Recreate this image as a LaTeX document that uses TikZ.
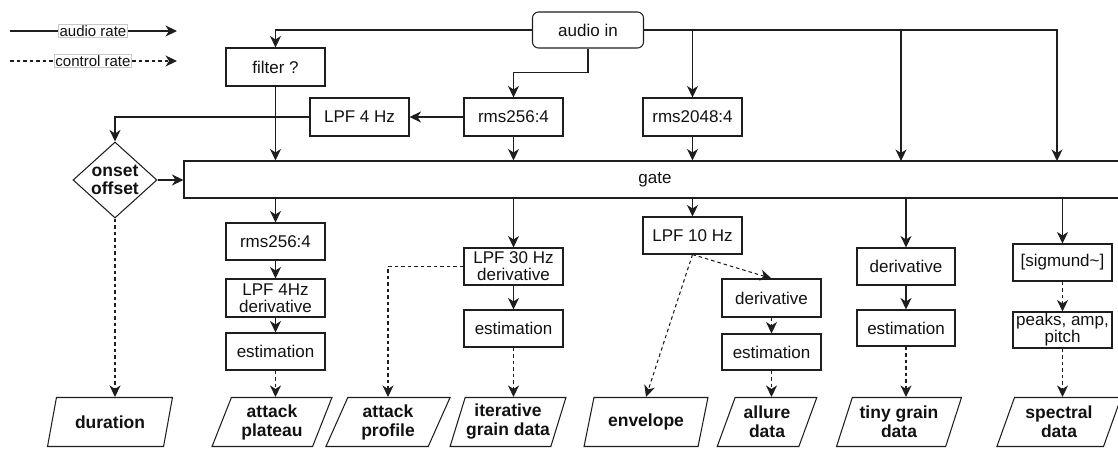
\documentclass[tikz,border=0pt]{standalone}
\usepackage{fontspec}
\setmainfont{Liberation Sans}
\usetikzlibrary{arrows.meta,shapes.geometric,calc}
\definecolor{lc}{HTML}{1E1E1E}
\definecolor{tc}{HTML}{111111}
\definecolor{lg}{HTML}{C8C8C8}
\begin{document}
\begin{tikzpicture}[x=1pt,y=-1pt,
  line width=1.05pt,
  >={Stealth[length=11.5pt,width=11pt,inset=3.5pt]},
  aud/.style={draw=lc,->},
  ctl/.style={draw=lc,->,dash pattern=on 3.5pt off 3pt},
  box/.style={draw=lc, rectangle, minimum width=99pt, minimum height=37pt,
    inner sep=1pt, align=center, font=\fontsize{17}{17}\selectfont, text=tc},
  datab/.style={draw=lc, trapezium, trapezium left angle=68, trapezium right angle=112,
    trapezium stretches=true, minimum width=125pt, minimum height=49pt, inner sep=1pt,
    align=center, font=\fontsize{17.5}{19}\selectfont\bfseries, text=tc},
  legbox/.style={draw=lg, fill=white, inner sep=1pt, font=\fontsize{15}{16}\selectfont, text=tc}
]
\useasboundingbox (0,0) rectangle (1118,449);
\clip (0,0) rectangle (1118,449);

% legend
\node[legbox] (la) at (93,31) {audio rate};
\coordinate (la0) at (10,31);
\coordinate (la1) at (177,31);
\draw[draw=lc] (la0) -- (la.west);
\draw[aud] (la.east) -- (la1);
\node[legbox] (lb) at (93,61) {control rate};
\coordinate (lb0) at (10,61);
\coordinate (lb1) at (177,61);
\draw[draw=lc,dash pattern=on 3.5pt off 3pt] (lb0) -- (lb.west);
\draw[ctl] (lb.east) -- (lb1);

% top
\node[box, rounded corners=6pt, minimum width=111pt, minimum height=36pt] (ain) at (588,30) {audio in};
\node[box, minimum height=38pt] (filter) at (275.5,67) {filter ?};
\node[box, minimum height=38pt] (rmsA) at (513.5,117) {rms256:4};
\node[box, minimum height=38pt] (lpf4) at (359.5,117) {LPF 4 Hz};
\node[box, minimum height=38pt] (rmsB) at (692.5,117) {rms2048:4};
\node[draw=lc, diamond, aspect=1.1, minimum width=84pt, minimum height=76pt, inner sep=0pt,
  align=center, font=\fontsize{17.5}{18}\selectfont\bfseries, text=tc] (onset) at (115,180) {onset\\offset};
\node[draw=lc, rectangle, minimum width=942pt, minimum height=37pt, inner sep=0pt,
  font=\fontsize{17}{17}\selectfont, text=tc] (gate) at (655,179.5) {gate};

\coordinate (gT) at (901,161);
\coordinate (gS) at (1057,161);

% middle boxes
\node[box] (rmsC) at (275.5,241.5) {rms256:4};
\node[box, minimum height=38pt] (lpf4d) at (275.5,298) {LPF 4Hz\\derivative};
\node[box] (estA) at (275.5,351.5) {estimation};
\node[box] (lpf30) at (513.5,266.5) {LPF 30 Hz\\derivative};
\node[box] (estB) at (513.5,328.5) {estimation};
\node[box] (lpf10) at (692.5,235.5) {LPF 10 Hz};
\node[box, minimum height=38pt] (derA) at (771.5,298) {derivative};
\node[box, minimum height=36pt] (estC) at (771.5,352) {estimation};
\node[box, minimum width=98pt] (derB) at (906,266.5) {derivative};
\node[box, minimum width=98pt, minimum height=36pt] (estD) at (906,328) {estimation};
\node[box] (sig) at (1062.5,262.5) {[sigmund\textasciitilde]};
\node[box, minimum height=36pt] (peaks) at (1062.5,330) {peaks, amp,\\pitch};

% data outputs
\node[datab] (duration) at (110,422) {duration};
\node[datab, minimum width=120pt] (plateau) at (272,422) {attack\\plateau};
\node[datab] (profile) at (388,422) {attack\\profile};
\node[datab, minimum width=114pt] (iter) at (508,422) {iterative\\grain data};
\node[datab] (envelope) at (646,422) {envelope};
\node[datab, minimum width=100pt] (allure) at (767,422) {allure\\data};
\node[datab] (tiny) at (899,422) {tiny grain\\data};
\node[datab] (spectral) at (1059,422) {spectral\\data};

% top connectors
\draw[aud] (ain.west) -| (filter.north);
\draw[aud] (ain.south) -- ++(0,24) -| (rmsA.north);
\draw[aud] (ain.east) -| (gS);
\draw[aud] (ain.east -| rmsB.north) -- (rmsB.north);
\draw[aud] (ain.east -| gT) -- (gT);
\draw[aud] (rmsA.west) -- (lpf4.east);
\draw[aud] (lpf4.west) -| (onset.north);
\draw[aud] (filter.south) -- (filter.south |- gate.north);
\draw[aud] (rmsA.south) -- (rmsA.south |- gate.north);
\draw[aud] (rmsB.south) -- (rmsB.south |- gate.north);
\draw[aud] (onset.east) -- (onset.east -| gate.west);

% below gate
\draw[aud] (rmsC.north |- gate.south) -- (rmsC.north);
\draw[aud] (rmsC) -- (lpf4d);
\draw[aud] (lpf4d) -- (estA);
\draw[ctl] (estA.south) -- (estA.south |- plateau.north);

\draw[aud] (lpf30.north |- gate.south) -- (lpf30.north);
\draw[aud] (lpf30) -- (estB);
\draw[ctl] (estB.south) -- (estB.south |- iter.north);
\draw[ctl] (lpf30.west) -| (profile.north);

\draw[aud] (lpf10.north |- gate.south) -- (lpf10.north);
\draw[ctl] (lpf10.south) -- (envelope.north);
\draw[ctl] (lpf10.south) -- (derA.north);
\draw[ctl] (derA) -- (estC);
\draw[ctl] (estC.south) -- (estC.south |- allure.north);

\draw[aud] (derB.north |- gate.south) -- (derB.north);
\draw[aud] (derB) -- (estD);
\draw[ctl] (estD.south) -- (estD.south |- tiny.north);

\draw[aud] (sig.north |- gate.south) -- (sig.north);
\draw[ctl] (sig) -- (peaks);
\draw[ctl] (peaks.south) -- (peaks.south |- spectral.north);

\draw[ctl] (onset.south) -- (onset.south |- duration.north);
\end{tikzpicture}
\end{document}
